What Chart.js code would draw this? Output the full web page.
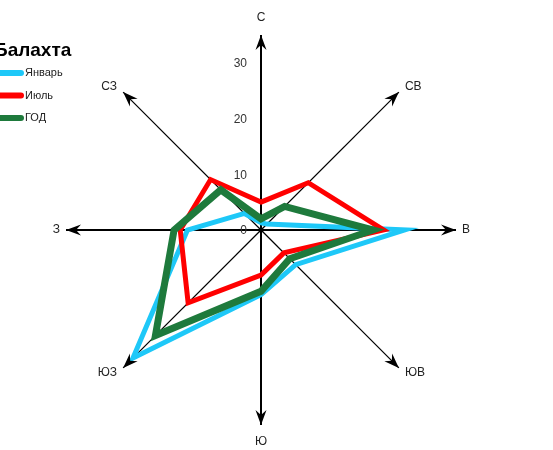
<!DOCTYPE html>
<html>
<head>
<meta charset="utf-8">
<script src="https://cdn.jsdelivr.net/npm/chart.js@4"></script>
<style>
  html, body { margin: 0; padding: 0; background: #fff; }
</style>
</head>
<body>
<canvas id="rose" width="553" height="450"></canvas>
<script>
// Wind rose: frequency of wind direction, % (Балахта)
var chartTitle = "Балахта";
var directions = ["С", "СВ", "В", "ЮВ", "Ю", "ЮЗ", "З", "СЗ"];
var tickValues = [0, 10, 20, 30];
var seriesNames = ["Январь", "Июль", "ГОД"];
var january = [1.3, 1.5, 25.8, 8.8, 11.6, 32.5, 13.2, 4.2];
var july = [5, 12, 22, 5.8, 8.1, 18.5, 14.5, 12.8];
var year = [2, 6, 20.1, 7.3, 11, 26.8, 15.6, 10.2];
var seriesColors = ["#1ec8f8", "#ff0000", "#1e7a3c"];
var seriesWidths = [5, 5, 7];

var FONT = "Arial, 'Liberation Sans', sans-serif";

// arrows, direction labels, ticks on the north axis, legend
var roseDecor = {
  id: "roseDecor",
  afterDraw: function (chart) {
    var ctx = chart.ctx, r = chart.scales.r;
    ctx.save();

    // arrowheads + direction labels
    for (var i = 0; i < directions.length; i++) {
      var p = r.getPointPosition(i, r.drawingArea);
      ctx.save();
      ctx.translate(p.x, p.y);
      ctx.rotate(p.angle);
      ctx.beginPath();
      ctx.moveTo(0, 0);
      ctx.lineTo(-15, -5.5);
      ctx.lineTo(-10, 0);
      ctx.lineTo(-15, 5.5);
      ctx.closePath();
      ctx.fillStyle = "#000";
      ctx.fill();
      ctx.restore();

      var c = Math.cos(p.angle), s = Math.sin(p.angle);
      var x = p.x, y = p.y;
      ctx.font = "12px " + FONT;
      ctx.fillStyle = "#222";
      ctx.textBaseline = "middle";
      if (Math.abs(c) < 0.1) {
        ctx.textAlign = "center";
        y += s > 0 ? 17 : -17;
      } else {
        ctx.textAlign = c > 0 ? "left" : "right";
        x += c > 0 ? 6 : -6;
        if (Math.abs(s) > 0.1) y += s > 0 ? 5 : -5;
      }
      ctx.fillText(directions[i], x, y);
    }

    // tick labels along the north axis
    ctx.font = "12px " + FONT;
    ctx.fillStyle = "#333";
    ctx.textAlign = "right";
    ctx.textBaseline = "middle";
    tickValues.forEach(function (v) {
      var q = r.getPointPositionForValue(0, v);
      ctx.fillText(String(v), q.x - 14, q.y + 1);
    });

    // centre dot
    ctx.beginPath();
    ctx.arc(r.xCenter, r.yCenter, 2.5, 0, Math.PI * 2);
    ctx.fillStyle = "#000";
    ctx.fill();

    // legend
    ctx.font = "bold 19px " + FONT;
    ctx.fillStyle = "#000";
    ctx.textAlign = "left";
    ctx.textBaseline = "alphabetic";
    ctx.fillText(chartTitle, -6, 56);
    chart.data.datasets.forEach(function (ds, k) {
      var ly = 73 + k * 22.5;
      ctx.beginPath();
      ctx.moveTo(-2, ly);
      ctx.lineTo(21, ly);
      ctx.lineWidth = 6;
      ctx.lineCap = "round";
      ctx.strokeStyle = ds.borderColor;
      ctx.stroke();
      ctx.font = "11px " + FONT;
      ctx.fillStyle = "#222";
      ctx.textBaseline = "middle";
      ctx.fillText(ds.label, 25, ly);
    });
    ctx.restore();
  }
};

var seriesData = [january, july, year];
var datasets = seriesNames.map(function (name, k) {
  return {
    label: name,
    data: seriesData[k],
    borderColor: seriesColors[k],
    backgroundColor: seriesColors[k],
    borderWidth: seriesWidths[k],
    borderJoinStyle: "miter",
    fill: false,
    pointRadius: 0,
    tension: 0,
    order: 3 - k
  };
});

new Chart(document.getElementById("rose"), {
  type: "radar",
  data: { labels: directions, datasets: datasets },
  options: {
    responsive: false,
    animation: false,
    layout: { padding: { left: 66, right: 97, top: 35, bottom: 25 } },
    plugins: { legend: { display: false }, tooltip: { enabled: false }, title: { display: false } },
    scales: {
      r: {
        min: 0,
        max: 35,
        ticks: { display: false, stepSize: 10 },
        grid: { display: false },
        pointLabels: { display: false },
        angleLines: {
          display: true,
          color: "#000",
          lineWidth: function (ctx) { return ctx.index % 2 === 0 ? 2 : 1.2; }
        }
      }
    }
  },
  plugins: [roseDecor]
});
</script>
</body>
</html>
